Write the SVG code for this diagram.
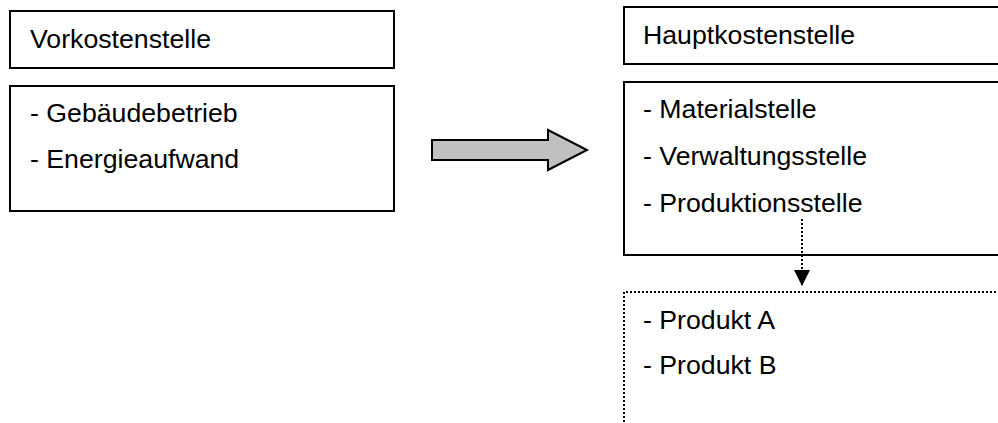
<svg xmlns="http://www.w3.org/2000/svg" width="998" height="423" viewBox="0 0 998 423">
<defs>
<style>
.box{fill:#fff;stroke:#000;stroke-width:2}
.dot{fill:none;stroke:#000;stroke-width:2;stroke-dasharray:2 2}
.t{font-family:"Liberation Sans",Arial,sans-serif;font-size:26.7px;fill:#000}
</style>
<marker id="ah" viewBox="0 0 16 16" refX="16" refY="8" markerWidth="16" markerHeight="16" markerUnits="userSpaceOnUse" orient="auto">
<path d="M0,0 L16,8 L0,16 Z" fill="#000"/>
</marker>
</defs>
<rect width="998" height="423" fill="#fff"/>
<g id="vorkostenstelle-header">
<rect class="box" x="10" y="11" width="384" height="57"/>
<text class="t" x="30" y="48">Vorkostenstelle</text>
</g>
<g id="vorkostenstelle-items">
<rect class="box" x="10" y="86" width="384" height="125"/>
<text class="t" x="30" y="122">- Gebäudebetrieb</text>
<text class="t" x="30" y="168">- Energieaufwand</text>
</g>
<g id="hauptkostenstelle-header">
<rect class="box" x="624" y="7" width="380" height="57"/>
<text class="t" x="643" y="44">Hauptkostenstelle</text>
</g>
<g id="hauptkostenstelle-items">
<rect class="box" x="624" y="82" width="380" height="173"/>
<text class="t" x="643" y="118">- Materialstelle</text>
<text class="t" x="643" y="165">- Verwaltungsstelle</text>
<text class="t" x="643" y="212">- Produktionsstelle</text>
</g>
<g id="produkte">
<path class="dot" d="M624,430 L624,292 L1004,292"/>
<text class="t" x="643" y="329">- Produkt A</text>
<text class="t" x="643" y="374">- Produkt B</text>
</g>
<g id="connectors">
<path d="M432,140 L548,140 L548,130 L587,150 L548,170 L548,160 L432,160 Z" fill="#c0c0c0" stroke="#000" stroke-width="2"/>
<line x1="802" y1="219" x2="802" y2="286" stroke="#000" stroke-width="2" stroke-dasharray="2 2" marker-end="url(#ah)"/>
</g>
</svg>
